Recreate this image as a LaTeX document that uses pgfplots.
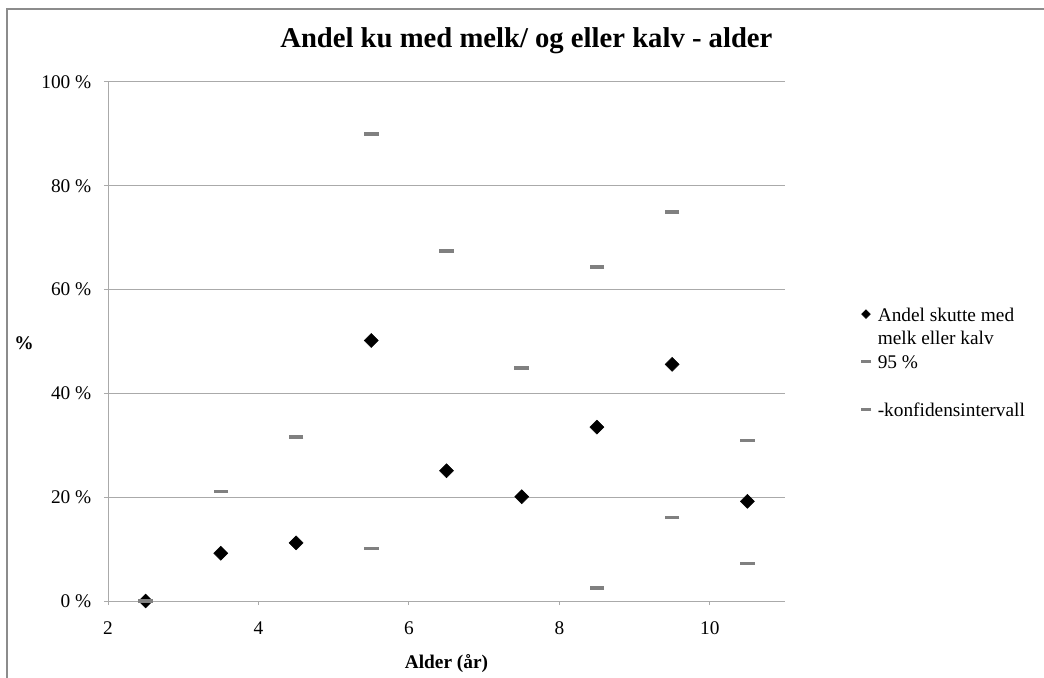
\documentclass[border=0pt]{standalone}
\usepackage{pgfplots}
\pgfplotsset{compat=1.18}
\usepackage{fontspec}
\setmainfont{Liberation Serif}
\definecolor{ci}{RGB}{128,128,128}
\definecolor{gridc}{RGB}{170,170,170}
\definecolor{framec}{RGB}{140,140,140}
\begin{document}
\begin{tikzpicture}
\path[use as bounding box] (-81pt,-57pt) rectangle (702pt,450.75pt);
\begin{axis}[
  width=507.75pt, height=389.25pt, scale only axis,
  xmin=2, xmax=11, ymin=0, ymax=100,
  xtick={2,4,6,8,10}, ytick={0,20,40,60,80,100},
  yticklabels={0 \%,20 \%,40 \%,60 \%,80 \%,100 \%},
  axis lines=left, axis line style={-, draw=gridc, line width=0.75pt},
  tick align=outside, major tick length=3pt,
  tick style={draw=gridc, line width=0.75pt},
  ymajorgrids, grid style={draw=gridc, line width=0.75pt},
  clip=false,
  /pgf/number format/assume math mode=true,
  tick label style={font=\fontsize{14.5}{16}\selectfont},
  xticklabel style={yshift=-9pt},
  yticklabel style={xshift=-6pt},
  title={Andel ku med melk/ og eller kalv - alder},
  title style={at={(axis description cs:0.618,1.064)}, anchor=center, yshift=0pt, font=\fontsize{21.5}{25}\selectfont\bfseries},
  xlabel={Alder (år)},
  xlabel style={at={(axis description cs:0.5,-0.121)}, anchor=center, font=\fontsize{14.5}{16}\selectfont\bfseries},
  ylabel={\%},
  ylabel style={at={(axis description cs:-0.124,0.497)}, rotate=-90, anchor=center, font=\fontsize{14.5}{16}\selectfont\bfseries},
  legend style={at={(axis description cs:1.1078,0.571)}, anchor=north west, draw=none, fill=none,
    inner sep=0pt, row sep=22pt, column sep=3pt, font=\fontsize{14.5}{17.5}\selectfont, nodes={inner sep=0pt}},
  legend cell align=left,
]
\addplot[only marks, mark=square*, mark size=3.7pt, mark options={rotate=45, fill=black, draw=black},
  legend image code/.code={\path (0pt,0pt) (11.25pt,0pt);
    \draw[mark=square*, mark size=2.3pt, mark options={rotate=45, fill=black, draw=black}] plot coordinates {(5.6pt,0pt)};}]
  coordinates {(2.5,0) (3.5,9.2) (4.5,11.2) (5.5,50.2) (6.5,25.1) (7.5,20.1) (8.5,33.5) (9.5,45.6) (10.5,19.2)};
\addlegendentry{\parbox[t]{140pt}{\strut Andel skutte med\\melk eller kalv\strut}}
\addplot[only marks, mark=-, mark size=5.45pt, mark options={draw=ci, line width=2.8pt},
  legend image code/.code={\path (0pt,0pt) (11.25pt,0pt);
    \draw[mark=-, mark size=4pt, mark options={draw=ci, line width=2.2pt}] plot coordinates {(5.6pt,0pt)};}]
  coordinates {(2.5,0) (3.5,21.1) (4.5,31.6) (5.5,90.0) (6.5,67.5) (7.5,44.9) (8.5,64.3) (9.5,75.0) (10.5,30.9)};
\addlegendentry{\parbox[t]{140pt}{\strut 95 \%}}
\addplot[only marks, mark=-, mark size=5.45pt, mark options={draw=ci, line width=2.8pt},
  legend image code/.code={\path (0pt,0pt) (11.25pt,0pt);
    \draw[mark=-, mark size=4pt, mark options={draw=ci, line width=2.2pt}] plot coordinates {(5.6pt,0pt)};}]
  coordinates {(2.5,0) (5.5,10.1) (8.5,2.5) (9.5,16.1) (10.5,7.2)};
\addlegendentry{\parbox[t]{140pt}{\strut -konfidensintervall}}
\end{axis}
\draw[framec, line width=1.1pt] (-75.75pt,-60pt) -- (-75.75pt,444pt) -- (705pt,444pt);
\end{tikzpicture}
\end{document}
